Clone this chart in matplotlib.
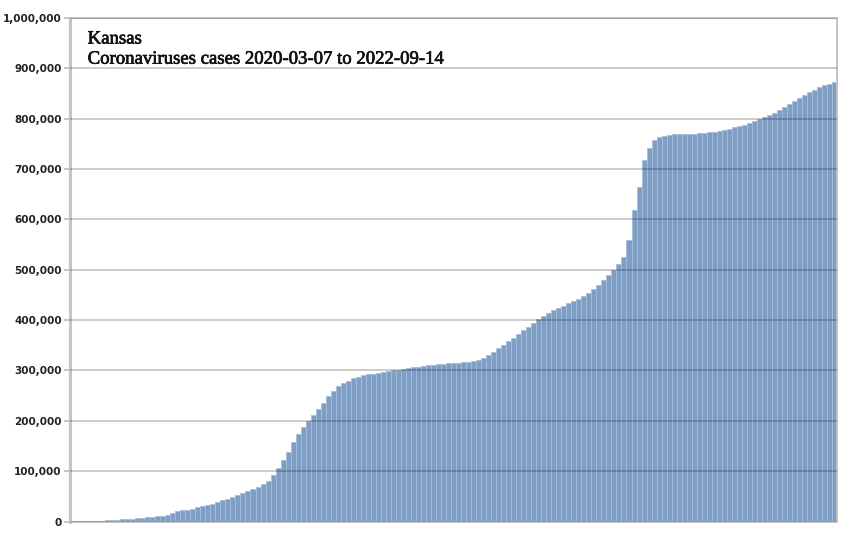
import matplotlib
matplotlib.use("Agg")
import matplotlib.pyplot as plt
import matplotlib.patheffects as pe
from matplotlib.ticker import FuncFormatter

# cumulative cases (thousands) at even steps along the x axis
cases_k = [
    0.2, 0.4, 0.6, 0.9, 1.1, 1.4, 1.7, 2.1, 2.7, 3.4,
    4.2, 5.0, 5.8, 6.6, 7.4, 8.5, 9.5, 10.5, 11.5, 12.5,
    16, 20.5, 22, 23.5, 25.5, 28, 30, 33, 35.5, 38.5,
    42, 45, 48.5, 52, 56, 60, 64, 69, 74, 81,
    92, 106, 122, 139, 157, 174, 187, 200, 212, 223,
    236, 250, 260, 270, 275, 280, 284, 287, 290, 292,
    293.5, 295, 297, 298.5, 300, 301.5, 303, 304.5, 306, 307.5,
    309, 310, 311, 312, 313, 314, 315, 315.5, 316, 317,
    319, 321, 325, 330, 337, 344, 351, 358, 365, 373,
    380, 387, 395, 402, 408, 415, 420, 424, 428, 433,
    437, 442, 448, 454, 461, 470, 480, 489, 499, 511,
    526, 560, 618, 665, 718, 742, 757, 763, 766, 768,
    769, 769.5, 770, 770, 770.5, 771, 771.5, 772.5, 774, 776,
    778, 780, 782.5, 785, 788, 791, 795, 799, 803, 807,
    812, 818, 824, 830, 835, 841, 847, 852, 857, 862,
    866, 869, 872,
]
cases = [v * 1000 for v in cases_k]
yticks = [0, 100000, 200000, 300000, 400000, 500000, 600000, 700000, 800000, 900000, 1000000]

state = "Kansas"
subtitle = "Coronaviruses cases 2020-03-07 to 2022-09-14"

fig = plt.figure(figsize=(8.55, 5.45), dpi=100)
ax = fig.add_axes([0.0819, 0.0431, 0.8971, 0.924])

x = range(len(cases))
ax.bar(x, cases, width=1.0, color="#7f9ec4", edgecolor="#a7bedb",
       linewidth=0.6, zorder=1)

ax.set_xlim(-0.5, len(cases) - 0.5)
ax.set_ylim(0, 1000000)
ax.set_yticks(yticks)
ax.yaxis.set_major_formatter(FuncFormatter(lambda v, p: f"{int(v):,}"))
ax.set_xticks([])

ax.grid(axis="y", color="black", alpha=0.2, linewidth=1.4, zorder=2)
ax.set_axisbelow(False)

for side in ["left", "right", "top", "bottom"]:
    ax.spines[side].set_color("#c4c4c4")
ax.spines["left"].set_linewidth(2.2)
ax.spines["right"].set_linewidth(1.4)
ax.spines["top"].set_linewidth(1.4)
ax.spines["bottom"].set_linewidth(1.4)

ax.tick_params(axis="y", length=4, width=1.4, color="#c4c4c4", pad=2,
               labelsize=7.5, labelcolor="#222222")
for lab in ax.get_yticklabels():
    lab.set_fontweight("bold")

# slightly heavier strokes, the reference title is darker than plain regular
heavy = [pe.withStroke(linewidth=0.5, foreground="#111111")]
ax.text(0.023, 0.975, state, transform=ax.transAxes, ha="left", va="top",
        family="Liberation Serif", fontsize=13.5, color="#111111", path_effects=heavy)
ax.text(0.023, 0.935, subtitle, transform=ax.transAxes, ha="left", va="top",
        family="Liberation Serif", fontsize=13.5, color="#111111", path_effects=heavy)

fig.savefig("out.png", dpi=100)
